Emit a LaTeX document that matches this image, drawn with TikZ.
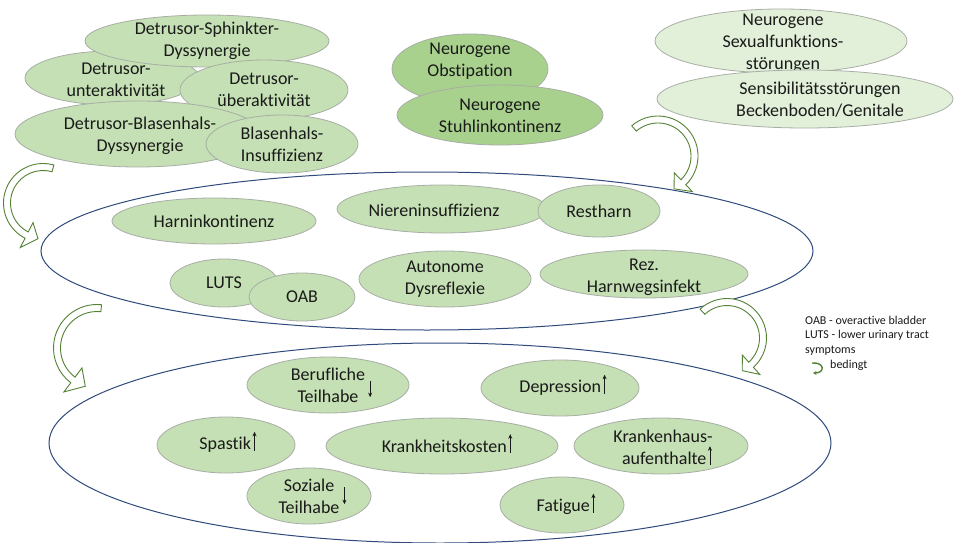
\documentclass[tikz,border=0pt]{standalone}
\usepackage{fontspec}
\setmainfont{Carlito}[Ligatures=CommonOff]
\usetikzlibrary{shapes.geometric,calc,arrows.meta}
\definecolor{lg}{HTML}{C5E0B4}
\definecolor{mg}{HTML}{A9D18E}
\definecolor{pg}{HTML}{E2F0D9}
\definecolor{eb}{HTML}{A8AEA5}
\definecolor{nb}{HTML}{2F4B7C}
\definecolor{ag}{HTML}{548235}
\definecolor{tx}{HTML}{1A1A1A}
\tikzset{
  blob/.style={ellipse, draw=eb, fill=lg, line width=0.8pt, inner sep=0pt},
  darkblob/.style={blob, fill=mg},
  paleblob/.style={blob, fill=pg},
  txt/.style={align=center, font=\fontsize{18}{22}\selectfont, text=tx, inner sep=0pt},
  grp/.style={ellipse, draw=nb, line width=1pt, inner sep=0pt},
  hollow/.style={draw=ag, fill=white, line width=0.9pt, line join=miter},
  tarr/.style={line width=0.9pt, draw=tx, -{Stealth[length=4.5pt,width=4pt]}},
  legend/.style={font=\fontsize{12}{14.6}\selectfont, text=tx, inner sep=0pt, anchor=base west},
}
\newcommand\uarr{\raisebox{0pt}[0pt][0pt]{\hspace{1.5pt}\tikz[baseline=0pt]\draw[tarr] (0pt,-1pt) -- (0pt,18pt);}}
\newcommand\darrlow[2]{\raisebox{0pt}[0pt][0pt]{\rlap{\hspace{3pt}\tikz[baseline=0pt]\draw[tarr] (0pt,#1) -- (0pt,#2);}}}
% center, radius, start, end, tip angle, half band, half head
\newcommand\hollowarrow[7]{%
  \draw[hollow] ($(#1)+(#3:{#2+#6})$) arc[start angle=#3, end angle=#4, radius={#2+#6}]
    -- ($(#1)+(#4:{#2+#7})$) -- ($(#1)+(#5:#2)$) -- ($(#1)+(#4:{#2-#7})$)
    -- ($(#1)+(#4:{#2-#6})$) arc[start angle=#4, end angle=#3, radius={#2-#6}] -- cycle;}
\begin{document}
\begin{tikzpicture}[x=1pt,y=-1pt]
\useasboundingbox[fill=white] (0,0) rectangle (955,543);

% group ellipses
\node[grp, minimum width=772pt, minimum height=158pt] (g1) at (427,251) {};
\node[grp, minimum width=782pt, minimum height=200pt] (g2) at (440,443) {};

% top-left cluster
\node[blob, minimum width=174pt, minimum height=54pt,
  label={[txt,xshift=4pt,yshift=-2pt]center:Detrusor-\\unteraktivität}] (unter) at (112,78) {};
\node[blob, minimum width=244pt, minimum height=52pt,
  label={[txt]center:Detrusor-Sphinkter-\\Dyssynergie}] (dsd) at (207,41) {};
\node[blob, minimum width=168pt, minimum height=60pt,
  label={[txt]center:Detrusor-\\überaktivität}] (ueber) at (264,90) {};
\node[blob, minimum width=246pt, minimum height=66pt,
  label={[txt,xshift=2pt,yshift=-2pt]center:Detrusor-Blasenhals-\\Dyssynergie}] (dbd) at (138,134) {};
\node[blob, minimum width=152pt, minimum height=58pt,
  label={[txt]center:Blasenhals-\\Insuffizienz}] (bhi) at (282,144) {};

% middle top
\node[darkblob, minimum width=156pt, minimum height=70pt,
  label={[txt,yshift=8pt]center:Neurogene\\Obstipation}] (obst) at (470,69) {};
\node[darkblob, minimum width=206pt, minimum height=60pt,
  label={[txt,yshift=-1pt]center:Neurogene\\Stuhlinkontinenz}] (stuhl) at (500,115) {};

% top right
\node[paleblob, minimum width=252pt, minimum height=64pt,
  label={[txt,xshift=2pt,yshift=-2pt]center:Neurogene\\Sexualfunktions-\\störungen}] (sex) at (781,41) {};
\node[paleblob, minimum width=296pt, minimum height=58pt,
  label={[txt,xshift=15pt,yshift=-1pt]center:Sensibilitätsstörungen\\Beckenboden/Genitale}] (sens) at (805,99) {};

% middle group
\node[blob, minimum width=204pt, minimum height=46pt,
  label={[txt]center:Harninkontinenz}] (harn) at (214,221) {};
\node[blob, minimum width=210pt, minimum height=48pt,
  label={[txt,xshift=-8pt,yshift=-1pt]center:Niereninsuffizienz}] (niere) at (442,209) {};
\node[blob, minimum width=122pt, minimum height=52pt,
  label={[txt]center:Restharn}] (rest) at (599,211) {};
\node[blob, minimum width=108pt, minimum height=48pt,
  label={[txt]center:LUTS}] (luts) at (224,283) {};
\node[blob, minimum width=106pt, minimum height=48pt,
  label={[txt]center:OAB}] (oab) at (302,297) {};
\node[blob, minimum width=172pt, minimum height=56pt,
  label={[txt]center:Autonome\\Dysreflexie}] (ad) at (445,279) {};
\node[blob, minimum width=208pt, minimum height=48pt,
  label={[txt,yshift=-3pt]center:Rez.\\Harnwegsinfekt}] (rez) at (644,274) {};

% bottom group
\node[blob, minimum width=162pt, minimum height=56pt,
  label={[txt]center:Berufliche\darrlow{-1pt}{-17pt}\\Teilhabe}] (beruf) at (328,385) {};
\node[blob, minimum width=138pt, minimum height=56pt,
  label={[txt,xshift=2pt]center:Spastik\uarr}] (spas) at (226,445) {};
\node[blob, minimum width=124pt, minimum height=56pt,
  label={[txt]center:Soziale\\Teilhabe\darrlow{26pt}{9pt}}] (soz) at (309,496) {};
\node[blob, minimum width=232pt, minimum height=56pt,
  label={[txt,xshift=5pt]center:Krankheitskosten\uarr}] (kk) at (442,446) {};
\node[blob, minimum width=158pt, minimum height=56pt,
  label={[txt,xshift=3pt]center:Depression\uarr}] (dep) at (560,388) {};
\node[blob, minimum width=174pt, minimum height=56pt,
  label={[txt,xshift=2pt,yshift=-1pt]center:Krankenhaus-\\\hspace{8pt}aufenthalte\uarr}] (kh) at (661,446) {};
\node[blob, minimum width=124pt, minimum height=56pt,
  label={[txt,xshift=4pt,yshift=-2pt]center:Fatigue\uarr}] (fat) at (562,505) {};

% hollow curved arrows
\coordinate (c1) at (43,203);
\coordinate (c2) at (658,156);
\coordinate (c3) at (97,348);
\coordinate (c4) at (727,338);
\hollowarrow{c1}{36}{-74}{-243}{-262}{3.5}{14}
\hollowarrow{c2}{36.5}{-131}{46}{64}{3.5}{13}
\hollowarrow{c3}{40}{-84}{-233}{-253}{3.5}{15}
\hollowarrow{c4}{36}{-133}{48}{65}{3.5}{13}

% legend
\node[legend] (l1) at (805,324) {OAB - overactive bladder};
\node[legend] (l2) at (805,338.5) {LUTS - lower urinary tract};
\node[legend] (l3) at (805,353) {symptoms};
\node[legend] (l4) at (830,368) {bedingt};
\coordinate (i1) at (812,363);
\coordinate (i2) at (813,373);
\draw[ag, line width=1.4pt, -{Stealth[length=3.5pt,width=4pt]}] (i1) .. controls (825,362) and (825,373) .. (i2);
\end{tikzpicture}
\end{document}
